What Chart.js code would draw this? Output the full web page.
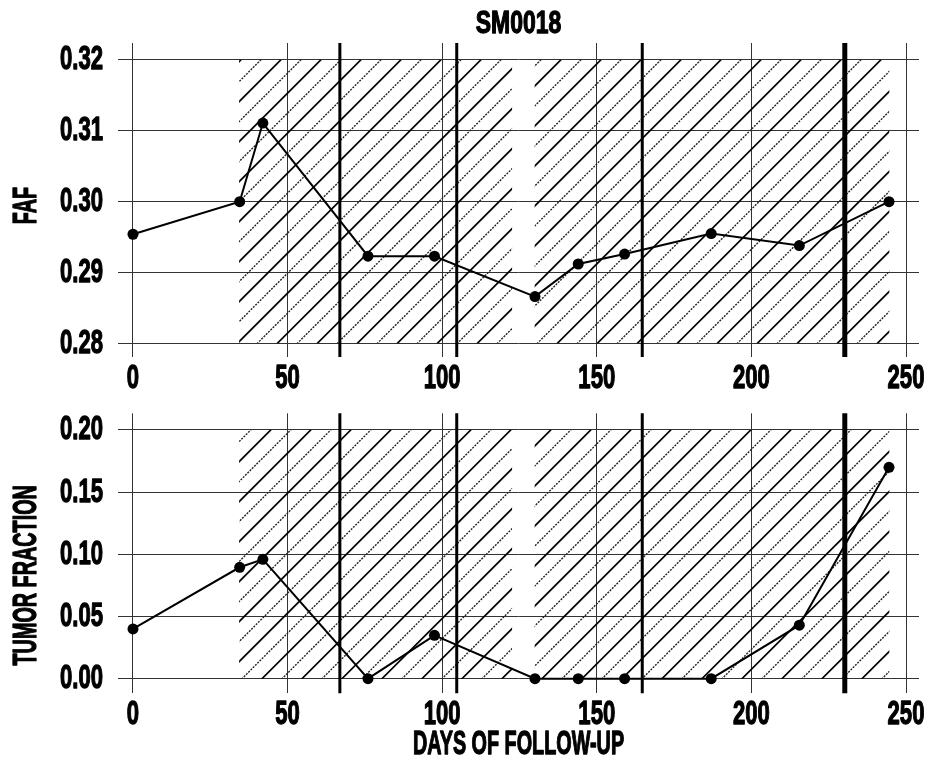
<!DOCTYPE html>
<html>
<head>
<meta charset="utf-8">
<script src="https://cdn.jsdelivr.net/npm/chart.js@4/dist/chart.umd.min.js"></script>
<style>
  html, body { margin: 0; padding: 0; background: #fff; }
  #wrap { position: relative; width: 928px; height: 766px; overflow: hidden; background: #fff; }
  canvas { position: absolute; left: 0; }
  #c1 { top: 0; z-index: 1; }
  #c2 { top: 380px; z-index: 2; }
</style>
</head>
<body>
<div id="wrap">
  <canvas id="c1" width="928" height="400"></canvas>
  <canvas id="c2" width="928" height="386"></canvas>
</div>
<script>
// ---- data ----
const chartTitle = 'SM0018';
const xDays = [0, 34.5, 42, 76, 97.5, 130, 144, 159, 187, 215.5, 244.5];
const fafValues = [0.2954, 0.3000, 0.3111, 0.2923, 0.2923, 0.2866, 0.2912, 0.2926, 0.2955, 0.2938, 0.3000];
const tumorFraction = [0.040, 0.0896, 0.096, 0.000, 0.0349, 0.000, 0.000, 0.000, 0.000, 0.043, 0.170];
const xTicks = [0, 50, 100, 150, 200, 250];
const fafTicks = [0.28, 0.29, 0.30, 0.31, 0.32];
const tfTicks = [0.00, 0.05, 0.10, 0.15, 0.20];
const treatmentPeriods = [[34.3, 122.6], [129.9, 244.6]];
const eventDays = [66.9, 104.7, 164.7, 230.2];
const xLabel = 'DAYS OF FOLLOW-UP';
const fafLabel = 'FAF\u00A0\u00A0';
const tfLabel = 'TUMOR FRACTION\u00A0\u00A0\u00A0\u00A0\u00A0\u00A0\u00A0\u00A0';

// ---- styles ----
const FONT = "'Liberation Sans', Arial, sans-serif";
Chart.defaults.font.family = FONT;
Chart.defaults.font.weight = 'bold';
Chart.defaults.color = '#000';
const eventWidths = [3, 3, 3, 5];
const TICK_SIZE = 34, AXIS_TITLE_SIZE = 33, TITLE_SIZE = 31;
// horizontal condensing per font size (the reference uses a tall, heavy condensed face)
const condenseBySize = { 34: 0.65, 33: 0.6, 31: 0.74 };

const condensePlugin = {
  id: 'condense',
  beforeDraw(chart) {
    const ctx = chart.ctx;
    if (ctx.__condensed) return;
    const orig = ctx.fillText.bind(ctx);
    const origStroke = ctx.strokeText.bind(ctx);
    ctx.fillText = function (text, x, y, maxWidth) {
      const m = /(\d+(?:\.\d+)?)px/.exec(ctx.font);
      const sx = (m && condenseBySize[parseFloat(m[1])]) || 1;
      ctx.save();
      ctx.translate(x, y);
      ctx.scale(sx, 1);
      const hasMax = !(maxWidth === undefined || maxWidth === null);
      if (hasMax) orig(text, 0, 0, maxWidth / sx); else orig(text, 0, 0);
      if (sx !== 1) {
        ctx.strokeStyle = ctx.fillStyle;
        ctx.lineWidth = 1.3;
        ctx.lineJoin = 'round';
        ctx.setLineDash([]);
        if (hasMax) origStroke(text, 0, 0, maxWidth / sx); else origStroke(text, 0, 0);
      }
      ctx.restore();
    };
    ctx.__condensed = true;
  }
};

const hatchPlugin = {
  id: 'hatch',
  beforeDatasetsDraw(chart, args, opts) {
    const { ctx, chartArea } = chart;
    const xs = chart.scales.x, ys = chart.scales.y;
    const yTop = ys.getPixelForValue(opts.yMax);
    const yBot = ys.getPixelForValue(opts.yMin);
    const off = opts.pageOffset || 0;
    ctx.save();
    treatmentPeriods.forEach(([a, b]) => {
      const x0 = xs.getPixelForValue(a), x1 = xs.getPixelForValue(b);
      ctx.save();
      ctx.beginPath();
      ctx.rect(x0, yTop, x1 - x0, yBot - yTop);
      ctx.clip();
      const phase = 20.7;
      const cMin = x0 + yTop + off - 40, cMax = x1 + yBot + off + 40;
      let n = Math.floor((cMin - phase) / 20);
      for (; phase + n * 20 <= cMax; n++) {
        const c = phase + n * 20 - off; // x + y = c (canvas coords)
        const solid = (((n % 2) + 2) % 2) === 0;
        ctx.beginPath();
        ctx.moveTo(c - yBot - 5, yBot + 5);
        ctx.lineTo(c - yTop + 5, yTop - 5);
        if (solid) {
          ctx.setLineDash([]);
          ctx.strokeStyle = '#000';
          ctx.lineWidth = 1.7;
        } else {
          ctx.setLineDash([2, 1.2]);
          ctx.strokeStyle = '#222';
          ctx.lineWidth = 1.4;
        }
        ctx.stroke();
      }
      ctx.restore();
    });
    ctx.setLineDash([]);
    ctx.strokeStyle = '#000';
    eventDays.forEach((d, i) => {
      const x = xs.getPixelForValue(d);
      ctx.lineWidth = eventWidths[i];
      ctx.beginPath();
      ctx.moveTo(x, chartArea.top);
      ctx.lineTo(x, chartArea.bottom);
      ctx.stroke();
    });
    ctx.restore();
  }
};

function makeChart(canvasId, values, yTicks, yMin, yMax, yTitle, opts) {
  return new Chart(document.getElementById(canvasId), {
    type: 'line',
    data: {
      datasets: [{
        data: xDays.map((x, i) => ({ x: x, y: values[i] })),
        borderColor: '#000',
        borderWidth: 2,
        pointRadius: 5.5,
        pointBackgroundColor: '#000',
        pointBorderColor: '#000',
        pointBorderWidth: 0,
        tension: 0,
        fill: false
      }]
    },
    options: {
      responsive: false,
      devicePixelRatio: 1,
      animation: false,
      layout: { padding: { left: 0, right: 9, top: opts.padTop, bottom: 0 } },
      plugins: {
        legend: { display: false },
        tooltip: { enabled: false },
        title: opts.title ? {
          display: true, text: opts.title,
          fullSize: false,
          font: { size: TITLE_SIZE, weight: 'bold', family: FONT },
          color: '#000',
          padding: { top: 5.4, bottom: 0.4 }
        } : { display: false },
        hatch: { yMin: yTicks[0], yMax: yTicks[yTicks.length - 1], pageOffset: opts.pageOffset }
      },
      scales: {
        x: {
          type: 'linear',
          min: -4.85, max: 254.2,
          afterBuildTicks: s => { s.ticks = xTicks.map(v => ({ value: v })); },
          afterFit: s => { s.height = opts.xHeight; s.paddingLeft = 0; s.paddingRight = 0; },
          grid: { color: '#333', lineWidth: 1, drawTicks: false },
          border: { display: false },
          ticks: { font: { size: TICK_SIZE, weight: 'bold' }, color: '#000', padding: 1, maxRotation: 0,
                   callback: v => String(v) },
          title: opts.xTitle ? {
            display: true, text: opts.xTitle,
            font: { size: AXIS_TITLE_SIZE, weight: 'bold' }, color: '#000',
            padding: { top: 0, bottom: 1.2 }
          } : { display: false }
        },
        y: {
          type: 'linear',
          min: yMin, max: yMax,
          afterBuildTicks: s => { s.ticks = yTicks.map(v => ({ value: v })); },
          afterFit: s => { s.width = 118; s.paddingTop = 0; s.paddingBottom = 0; },
          grid: { color: '#333', lineWidth: 1, drawTicks: false },
          border: { display: false },
          ticks: { font: { size: TICK_SIZE, weight: 'bold' }, color: '#000', padding: 15,
                   callback: v => Number(v).toFixed(2) },
          title: {
            display: true, text: yTitle,
            font: { size: AXIS_TITLE_SIZE, weight: 'bold' }, color: '#000',
            padding: { top: 6.7, bottom: 0 }
          }
        }
      }
    },
    plugins: [condensePlugin, hatchPlugin]
  });
}

makeChart('c1', fafValues, fafTicks, 0.27807, 0.3224, fafLabel,
  { title: chartTitle, padTop: 0, xHeight: 43, pageOffset: 0 });
makeChart('c2', tumorFraction, tfTicks, -0.01174, 0.2134, tfLabel,
  { title: null, padTop: 33.3, xHeight: 72.7, xTitle: xLabel, pageOffset: 380 });
</script>
</body>
</html>
